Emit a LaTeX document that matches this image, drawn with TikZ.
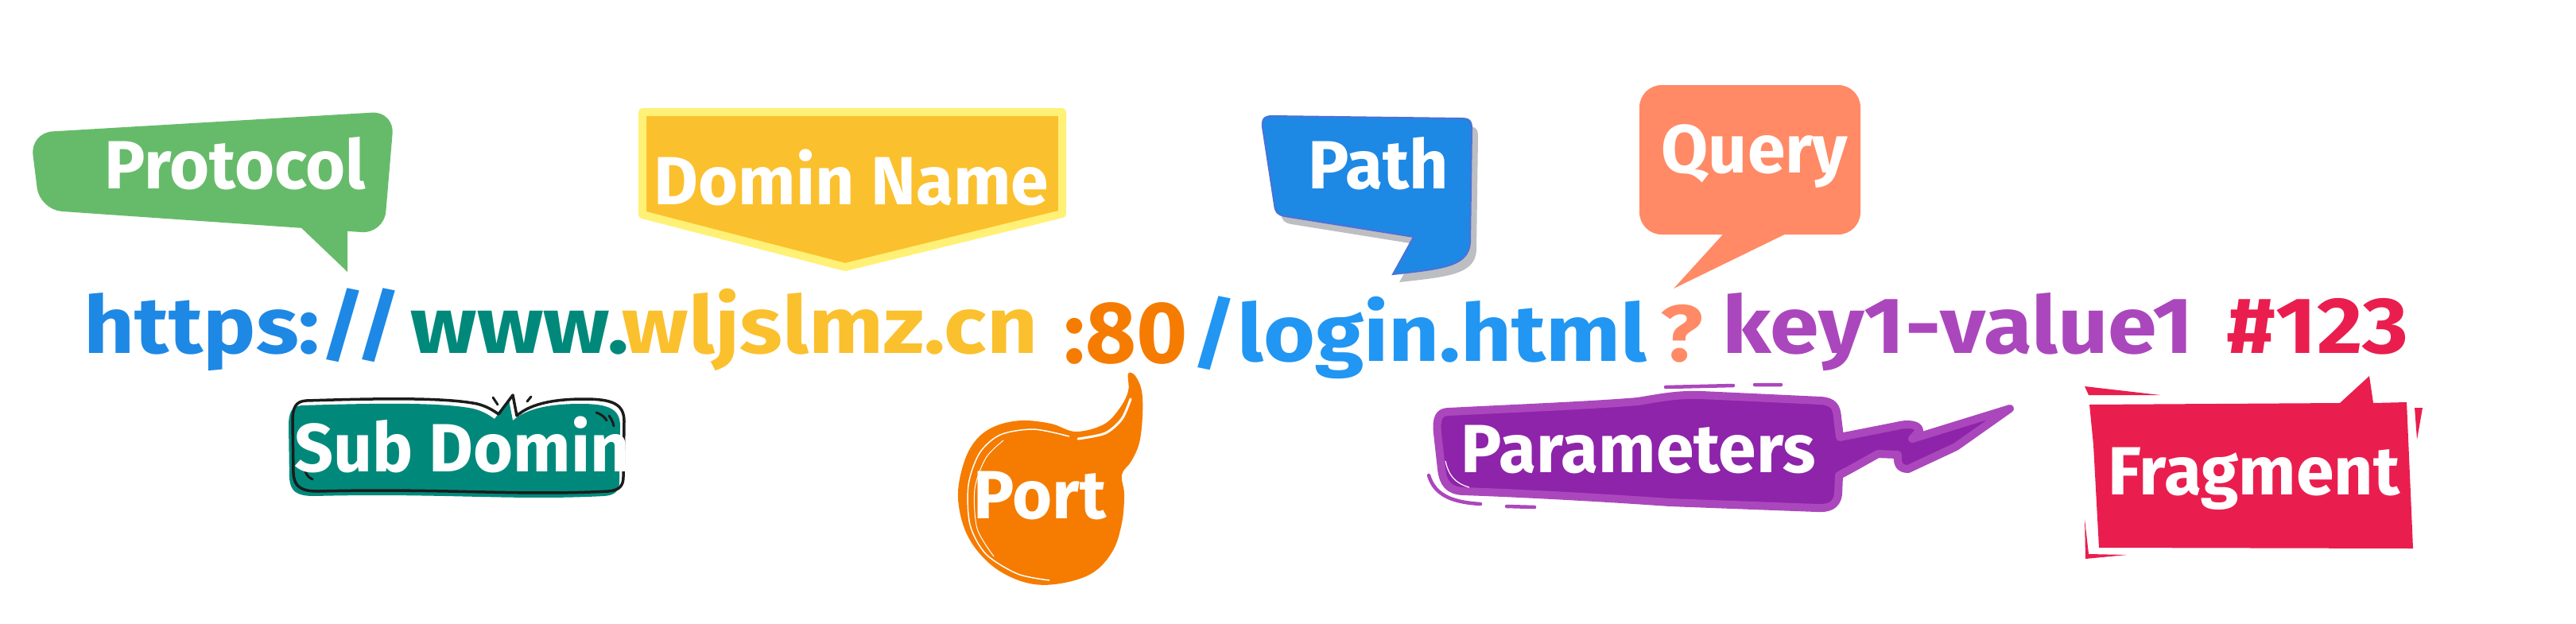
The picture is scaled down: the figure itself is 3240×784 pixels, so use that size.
\documentclass[tikz,border=0pt]{standalone}
\usepackage{fontspec}
\setmainfont{Fira Sans}
\newfontfamily\urlfont{Fira Sans}[FakeStretch=1.11]
\usepackage{tikz}
\usetikzlibrary{positioning}

\definecolor{schemeblue}{HTML}{1E88E5}
\definecolor{wwwteal}{HTML}{00897B}
\definecolor{hostyellow}{HTML}{FBC02D}
\definecolor{hostlight}{HTML}{FFF176}
\definecolor{portorange}{HTML}{F57C00}
\definecolor{fileblue}{HTML}{2196F3}
\definecolor{querysalmon}{HTML}{FF8A65}
\definecolor{paramlight}{HTML}{AB47BC}
\definecolor{paramdark}{HTML}{8E24AA}
\definecolor{fragred}{HTML}{E91E4E}
\definecolor{protogreen}{HTML}{66BB6A}
\definecolor{pathedge}{HTML}{4A72D6}
\definecolor{shadowgray}{HTML}{BDBEC2}
\definecolor{inkblack}{HTML}{1C1C1C}

\begin{document}
\begin{tikzpicture}[x=0.01cm, y=-0.01cm,
  lbl/.style={anchor=base, inner sep=0pt, text=white, font=\fontsize{24.4}{28}\selectfont\bfseries},
  urlpart/.style={anchor=base west, inner sep=0pt, font=\urlfont\fontsize{28.5}{32}\selectfont\bfseries},
  ink/.style={inkblack, line width=0.03cm, line cap=round},
  brush/.style={paramlight, line width=0.045cm, line cap=round}
]
  \useasboundingbox (0,0) rectangle (3240,784);

  % protocol
  \fill[protogreen, rounded corners=0.28cm] (38,167) -- (496,140) -- (483,294) -- (50,264) -- cycle;
  \fill[protogreen] (437,280) -- (437,342) -- (372,280) -- cycle;
  \node[lbl] (protocol) at (296,237) {Protocol};

  % domain name
  \filldraw[fill=hostyellow, draw=hostlight, line width=0.1cm, line join=round]
    (808,141) -- (1336,141) -- (1336,269) -- (1063,336) -- (808,270) -- cycle;
  \node[lbl] (domain) at (1071,257) {Domin Name};

  % path
  \filldraw[fill=schemeblue, draw=pathedge, line width=0.02cm,
    preaction={fill=shadowgray, transform canvas={shift={(8,10)}}}]
    (1600,146) -- (1838,149) .. controls (1848,149) and (1851,152) .. (1851,162)
    -- (1849,305) .. controls (1847,335) and (1815,338) .. (1752,345)
    -- (1778,298) -- (1616,272) .. controls (1606,270) and (1604,266) .. (1603,258)
    -- (1588,160) .. controls (1587,150) and (1590,146) .. (1600,146) -- cycle;
  \node[lbl] (path) at (1734,237) {Path};

  % query
  \fill[querysalmon, rounded corners=0.28cm] (2062,107) rectangle (2340,295);
  \fill[querysalmon] (2176,285) -- (2105,363) -- (2265,285) -- cycle;
  \node[lbl] (query) at (2207,217) {Query};

  % sub domain
  \draw[ink, line width=0.035cm, line join=round,
    preaction={fill=wwwteal, transform canvas={shift={(-5,6)}}}]
    (385,504) .. controls (480,501) and (560,500) .. (600,508)
    .. controls (612,511) and (620,516) .. (627,521) -- (645,497) -- (650,523)
    .. controls (665,510) and (690,502) .. (735,502)
    .. controls (770,502) and (785,508) .. (785,530) -- (784,600)
    .. controls (784,612) and (778,617) .. (765,618)
    .. controls (650,624) and (560,614) .. (400,618)
    .. controls (378,618) and (370,612) .. (369,595) -- (368,530)
    .. controls (368,512) and (372,505) .. (385,504) -- cycle;
  \draw[ink] (620,500) -- (626,509) (663,505) -- (668,499)
    (750,519) .. controls (756,521) and (760,524) .. (763,529)
    (766,523) .. controls (769,527) and (771,531) .. (772,536)
    (383,588) .. controls (384,596) and (387,600) .. (393,603);
  \node[lbl] (subdomain) at (581,593) {Sub Domin};

  % port
  \fill[portorange] plot[smooth cycle, tension=0.6] coordinates {
    (1419,470) (1428,473) (1436,492) (1437,523) (1433,557) (1423,580) (1411,597)
    (1414,622) (1411,658) (1399,694) (1372,722) (1327,735) (1287,732) (1247,711)
    (1217,674) (1205,627) (1212,583) (1228,553) (1252,536) (1285,529) (1322,533)
    (1353,543) (1388,534) (1408,514) (1419,492)};
  \draw[white, line width=0.015cm] plot[smooth] coordinates {
    (1345,549) (1300,540) (1258,547) (1232,570) (1218,610) (1220,660) (1240,697) (1280,722) (1320,730)};
  \draw[white, line width=0.01cm] plot[smooth] coordinates {
    (1262,554) (1240,576) (1226,615) (1229,665) (1250,700)};
  \draw[white, line width=0.03cm, line cap=round] plot[smooth] coordinates {
    (1356,552) (1390,545) (1411,527) (1422,502)};
  \node[lbl] (port) at (1308,652) {Port};

  % parameters
  \filldraw[fill=paramdark, draw=paramlight, line width=0.1cm, line join=round]
    (1822,518) .. controls (1900,514) and (2000,510) .. (2060,505)
    .. controls (2090,500) and (2110,496) .. (2140,497) -- (2290,504)
    .. controls (2306,505) and (2310,512) .. (2311,525) -- (2314,550)
    -- (2385,536) .. controls (2400,532) and (2414,534) .. (2414,542) -- (2405,552)
    -- (2528,514) -- (2460,562) -- (2400,590)
    .. controls (2388,590) and (2386,582) .. (2387,572) -- (2362,571) -- (2328,590)
    -- (2313,598) -- (2312,622) .. controls (2310,636) and (2300,640) .. (2285,639)
    -- (2100,632) .. controls (2000,625) and (1900,620) .. (1840,618)
    .. controls (1822,617) and (1815,608) .. (1813,590) -- (1808,545)
    .. controls (1806,526) and (1810,518) .. (1822,518) -- cycle;
  \draw[white, line width=0.012cm] (1818,580) .. controls (1822,598) and (1830,608) .. (1848,613);
  \draw[brush] (1797,598) .. controls (1805,625) and (1830,632) .. (1862,634);
  \draw[brush] (2095,487) -- (2180,485) (2207,484) -- (2240,484) (1895,637) -- (1930,638);
  \node[lbl] (parameters) at (2061,594) {Parameters};

  % fragment
  \fill[fragred] (2628,509) -- (2943,507) -- (2980,473) -- (2985,507) -- (3027,506)
    -- (3035,690) -- (2640,689) -- (2633,560) -- cycle;
  \fill[fragred] (2622,486) -- (2717,497) -- (2627,497) -- cycle;
  \fill[fragred] (3037,513) -- (3047,513) -- (3040,553) -- cycle;
  \fill[fragred] (2622,653) -- (2627,697) -- (2675,698) -- (2623,703) -- cycle;
  \node[lbl] (fragment) at (2835,622) {Fragment};

  % the url
  \node[urlpart, text=schemeblue] (scheme) at (105,444) {https://};
  \node[urlpart, text=wwwteal] (www) at (516,444) {www.};
  \node[urlpart, text=hostyellow] (host) at (782,444) {wljslmz.cn};
  \node[urlpart, text=portorange, font=\fontsize{31.3}{36}\selectfont\bfseries] (portnum) at (1338,456) {:80};
  \node[urlpart, text=fileblue] (file) at (1498,454) {/login.html};
  \node[urlpart, text=querysalmon] (qmark) at (2088,454) {?};
  \node[urlpart, text=paramlight] (params) at (2166,444) {key1-value1};
  \node[urlpart, text=fragred] (hash) at (2800,444) {\#123};
\end{tikzpicture}
\end{document}
